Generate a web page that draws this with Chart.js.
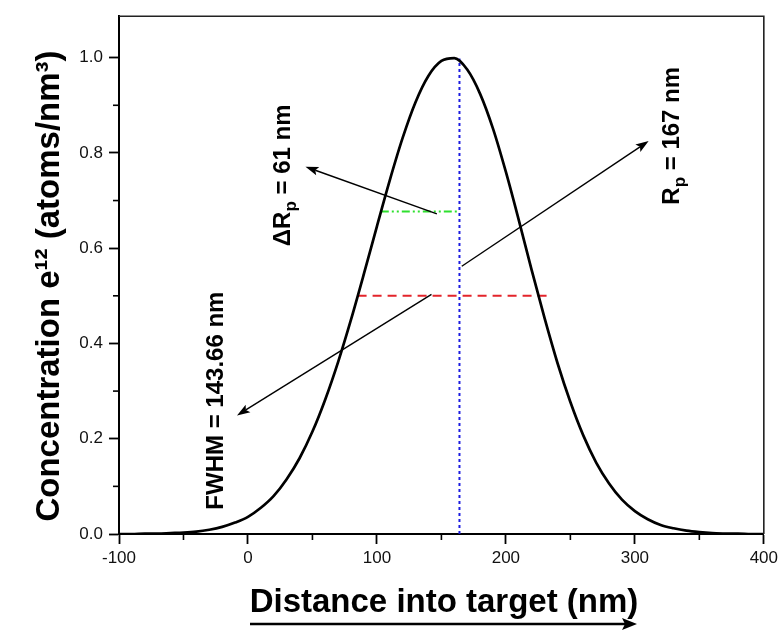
<!DOCTYPE html>
<html><head><meta charset="utf-8">
<script src="https://cdn.jsdelivr.net/npm/chart.js@4.4.1/dist/chart.umd.min.js"></script>
<style>html,body{margin:0;padding:0;background:#fff;}canvas{display:block;}</style>
</head><body>
<canvas id="c" width="782" height="630"></canvas>
<script>
// ---- data ----
const distance = [-100,-90,-80,-70,-60,-50,-40,-30,-20,-10,0,10,20,30,40,50,60,70,80,90,100,110,120,130,140,150,160,170,180,190,200,210,220,230,240,250,260,270,280,290,300,310,320,330,340,350,360,370,380,390,400];
const concentration = [0.000,0.000,0.001,0.001,0.002,0.003,0.005,0.009,0.015,0.024,0.036,0.055,0.080,0.115,0.159,0.215,0.283,0.362,0.451,0.547,0.646,0.743,0.832,0.907,0.962,0.993,0.999,0.975,0.924,0.851,0.760,0.659,0.554,0.453,0.359,0.277,0.207,0.150,0.106,0.072,0.048,0.031,0.019,0.012,0.007,0.004,0.002,0.001,0.001,0.000,0.000];
const fwhmLineX = [85, 233];
const fwhmLineY = [0.5, 0.5];
const sigmaLineX = [103, 162];
const sigmaLineY = [0.677, 0.677];
const rpLineX = [164, 164];
const rpLineY = [0, 0.998];
const xTicks = [-100, 0, 100, 200, 300, 400];
const yTicks = [0, 0.2, 0.4, 0.6, 0.8, 1.0];
const xMinorTicks = [-50, 50, 150, 250, 350];
const yMinorTicks = [0.1, 0.3, 0.5, 0.7, 0.9];
// annotation arrows (data units), head at the "to" end
const arrowFromX = [146.5, 142.3, 165.8];
const arrowFromY = [0.672, 0.503, 0.562];
const arrowToX = [44.6, -8.5, 310.7];
const arrowToY = [0.771, 0.249, 0.825];
// rotated annotation labels: [text, isSubscript] pieces
const labelParts = [
  [["\u0394R", false], ["p", true], [" = 61 nm", false]],
  [["FWHM = 143.66 nm", false]],
  [["R", false], ["p", true], [" = 167 nm", false]]
];
const labelX = [32.3, -19.6, 333.9];   // baseline position (data x)
const labelY = [0.753, 0.280, 0.836];  // centre of text (data y)
const xTitle = "Distance into target (nm)";
const yTitle = "Concentration e\u00B9\u00B2 (atoms/nm\u00B3)";

const toXY = (xs, ys) => xs.map((x, i) => ({x: x, y: ys[i]}));
const FONT = "'Liberation Sans', Arial, sans-serif";

function drawArrow(ctx, x1, y1, x2, y2, len, half, lw) {
  const a = Math.atan2(y2 - y1, x2 - x1);
  ctx.save();
  ctx.strokeStyle = '#000'; ctx.fillStyle = '#000'; ctx.lineWidth = lw;
  ctx.beginPath();
  ctx.moveTo(x1, y1);
  ctx.lineTo(x2 - Math.cos(a) * len * 0.8, y2 - Math.sin(a) * len * 0.8);
  ctx.stroke();
  ctx.translate(x2, y2); ctx.rotate(a);
  ctx.beginPath();
  ctx.moveTo(0, 0); ctx.lineTo(-len, -half); ctx.lineTo(-len * 0.8, 0); ctx.lineTo(-len, half);
  ctx.closePath(); ctx.fill();
  ctx.restore();
}

const decor = {
  id: 'decor',
  afterDraw(chart) {
    const ctx = chart.ctx, xs = chart.scales.x, ys = chart.scales.y, ca = chart.chartArea;
    ctx.save();
    // frame top & right
    ctx.strokeStyle = '#222'; ctx.lineWidth = 1.6;
    ctx.beginPath();
    ctx.moveTo(ca.left, ca.top); ctx.lineTo(ca.right, ca.top); ctx.lineTo(ca.right, ca.bottom);
    ctx.stroke();
    // minor ticks
    ctx.strokeStyle = '#000'; ctx.lineWidth = 1.6;
    xMinorTicks.forEach(v => {
      const p = xs.getPixelForValue(v);
      ctx.beginPath(); ctx.moveTo(p, ca.bottom); ctx.lineTo(p, ca.bottom + 6); ctx.stroke();
    });
    yMinorTicks.forEach(v => {
      const p = ys.getPixelForValue(v);
      ctx.beginPath(); ctx.moveTo(ca.left, p); ctx.lineTo(ca.left - 6, p); ctx.stroke();
    });
    // annotation arrows
    arrowFromX.forEach((x, i) => {
      drawArrow(ctx, xs.getPixelForValue(x), ys.getPixelForValue(arrowFromY[i]),
        xs.getPixelForValue(arrowToX[i]), ys.getPixelForValue(arrowToY[i]), 13, 4.5, 1.4);
    });
    // rotated labels
    ctx.fillStyle = '#000';
    ctx.textBaseline = 'alphabetic';
    labelParts.forEach((parts, i) => {
      const big = 'bold 24px ' + FONT, small = 'bold 17px ' + FONT;
      let total = 0;
      parts.forEach(p => { ctx.font = p[1] ? small : big; total += ctx.measureText(p[0]).width; });
      const bx = xs.getPixelForValue(labelX[i]), cy = ys.getPixelForValue(labelY[i]);
      ctx.save();
      ctx.translate(bx, cy); ctx.rotate(-Math.PI / 2);
      let cx = -total / 2;
      parts.forEach(p => {
        ctx.font = p[1] ? small : big;
        ctx.textAlign = 'left';
        ctx.fillText(p[0], cx, p[1] ? 6 : 0);
        cx += ctx.measureText(p[0]).width;
      });
      ctx.restore();
    });
    // axis titles
    ctx.font = 'bold 33px ' + FONT;
    ctx.textAlign = 'center';
    ctx.fillText(xTitle, 444, 612);
    ctx.save();
    ctx.translate(59, 286); ctx.rotate(-Math.PI / 2);
    ctx.font = 'bold 33px ' + FONT;
    ctx.fillText(yTitle, 0, 0);
    ctx.restore();
    // arrow under x title
    drawArrow(ctx, 250, 624, 637, 624, 15, 6, 2.6);
    ctx.restore();
  }
};

new Chart(document.getElementById('c'), {
  type: 'line',
  data: {
    datasets: [
      {data: toXY(distance, concentration), borderColor: '#000', borderWidth: 2.7, pointRadius: 0,
       tension: 0.4, cubicInterpolationMode: 'monotone', fill: false},
      {data: toXY(fwhmLineX, fwhmLineY), borderColor: '#e3242b', borderWidth: 2, borderDash: [9, 6], pointRadius: 0, fill: false},
      {data: toXY(sigmaLineX, sigmaLineY), borderColor: '#2ee02e', borderWidth: 2, borderDash: [8, 3, 2, 3, 2, 3], pointRadius: 0, fill: false},
      {data: toXY(rpLineX, rpLineY), borderColor: '#1c1ce0', borderWidth: 2, borderDash: [3, 3], pointRadius: 0, fill: false}
    ]
  },
  options: {
    responsive: false, animation: false, devicePixelRatio: 1,
    layout: {padding: {top: 14, right: 18, left: 0, bottom: 0}},
    plugins: {legend: {display: false}, tooltip: {enabled: false}},
    scales: {
      x: {
        type: 'linear', min: -100, max: 400,
        afterBuildTicks: s => { s.ticks = xTicks.map(v => ({value: v})); },
        afterFit: s => { s.height = 96; },
        ticks: {color: '#111', padding: 4, font: {family: FONT, size: 17}, callback: v => String(v)},
        grid: {drawOnChartArea: false, drawTicks: true, tickLength: 10, tickWidth: 1.8, tickColor: '#000'},
        border: {display: true, color: '#000', width: 2}
      },
      y: {
        type: 'linear', min: 0, max: 1.087,
        afterBuildTicks: s => { s.ticks = yTicks.map(v => ({value: v})); },
        afterFit: s => { s.width = 119; },
        ticks: {color: '#111', padding: 6, font: {family: FONT, size: 17}, callback: v => Number(v).toFixed(1)},
        grid: {drawOnChartArea: false, drawTicks: true, tickLength: 10, tickWidth: 1.8, tickColor: '#000'},
        border: {display: true, color: '#000', width: 2}
      }
    }
  },
  plugins: [decor]
});
</script>
</body></html>
